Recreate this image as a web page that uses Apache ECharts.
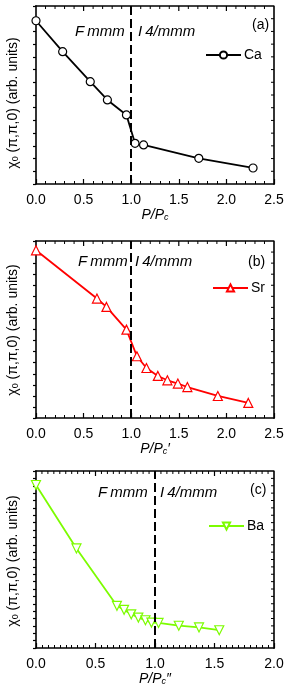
<!DOCTYPE html>
<html><head><meta charset="utf-8">
<script src="https://cdn.jsdelivr.net/npm/echarts@6/dist/echarts.min.js"></script>
<style>html,body{margin:0;padding:0;background:#fff}#c{width:291px;height:688px;background:#fff}</style>
</head><body><div id="c"></div>
<script>
// ---- data ----
const caP   = [0.0, 0.28, 0.57, 0.75, 0.95, 1.04, 1.13, 1.71, 2.28];
const caChi = [12.84, 10.41, 8.05, 6.61, 5.43, 3.20, 3.07, 2.02, 1.26];
const srP   = [0.0, 0.64, 0.74, 0.95, 1.06, 1.16, 1.28, 1.38, 1.49, 1.59, 1.91, 2.23];
const srChi = [15.16, 10.80, 10.04, 7.99, 5.58, 4.52, 3.80, 3.41, 3.11, 2.80, 1.99, 1.36];
const baP   = [0.0, 0.34, 0.68, 0.74, 0.80, 0.86, 0.92, 0.97, 1.03, 1.20, 1.37, 1.54];
const baChi = [22.1, 13.5, 5.72, 5.18, 4.57, 4.13, 3.76, 3.45, 3.40, 3.02, 2.79, 2.41];
const phaseBoundary = 1.0;
const xMaxA = 2.5, xMaxB = 2.5, xMaxC = 2.0;
const yMaxA = 14, yMaxB = 16, yMaxC = 24;
const seriesNames = ['Ca', 'Sr', 'Ba'];
const panelTags = ['(a)', '(b)', '(c)'];
const xNames = ['', '′', '″'];

const FONT = '"Liberation Sans", Arial, sans-serif';
const chart = echarts.init(document.getElementById('c'));

const grids = [
  {left: 36, top: 6, width: 238, height: 178},
  {left: 36, top: 241, width: 238, height: 177},
  {left: 36, top: 471, width: 238, height: 177}
];
const xMax = [xMaxA, xMaxB, xMaxC];
const yMax = [yMaxA, yMaxB, yMaxC];
const minorSplit = [5, 5, 10];
const colors = ['#000000', '#ff0000', '#7cfc00'];
const symbols = ['circle', 'triangle', 'triangle'];
const rot = [0, 0, 180];
const sizes = [8, 9, 9];
const datasets = [[caP, caChi], [srP, srChi], [baP, baChi]];

const xAxis = [], yAxis = [], series = [], legend = [];
const mkLine = () => ({show: true, onZero: false, lineStyle: {color: '#000', width: 1.6}});
for (let i = 0; i < 3; i++) {
  xAxis.push({
    gridIndex: i, type: 'value', position: 'bottom', min: 0, max: xMax[i], interval: 0.5,
    axisLine: mkLine(), splitLine: {show: false},
    axisTick: {inside: true, length: 5, lineStyle: {color: '#000', width: 1.2}},
    minorTick: {show: true, splitNumber: minorSplit[i], length: 3, lineStyle: {color: '#000', width: 1}},
    axisLabel: {color: '#000', fontFamily: FONT, fontSize: 14, margin: 9, formatter: v => v.toFixed(1)},
    name: '{i|P/P}{s|c}{i|' + xNames[i] + '}', nameLocation: 'middle', nameGap: 22,
    nameTextStyle: {rich: {
      i: {fontFamily: FONT, fontSize: 14, fontStyle: 'italic', color: '#000'},
      s: {fontFamily: FONT, fontSize: 9, fontStyle: 'italic', color: '#000', padding: [6, 0, 0, 0]}
    }}
  });
  yAxis.push({
    gridIndex: i, type: 'value', position: 'left', min: 0, max: yMax[i], interval: 1,
    axisLine: mkLine(), splitLine: {show: false},
    axisTick: {inside: false, length: 3, lineStyle: {color: '#000', width: 1.2}},
    axisLabel: {show: false}
  });
  const [px, py] = datasets[i];
  series.push({
    name: seriesNames[i], type: 'line', xAxisIndex: i, yAxisIndex: i,
    data: px.map((x, k) => [x, py[k]]),
    symbol: symbols[i], symbolSize: sizes[i], symbolRotate: rot[i], showAllSymbol: true,
    lineStyle: {color: colors[i], width: 1.8},
    itemStyle: {color: '#fff', borderColor: colors[i], borderWidth: 1.2},
    clip: false, z: 3,
    markLine: {
      silent: true, symbol: 'none', label: {show: false}, animation: false,
      lineStyle: {color: '#000', width: 2, type: [9, 4]},
      data: [{xAxis: phaseBoundary}]
    }
  });
  // top and right frame edges, drawn through the panel's own scales
  series.push({
    name: 'frame' + i, type: 'line', xAxisIndex: i, yAxisIndex: i,
    data: [[0, yMax[i]], [xMax[i], yMax[i]], [xMax[i], 0]],
    symbol: 'none', silent: true, clip: false, z: 4,
    lineStyle: {color: '#000', width: 1.6, cap: 'square'}, tooltip: {show: false}
  });
  // inward ticks on the top and right edges
  const step = 0.5 / minorSplit[i];
  const tickData = [];
  const nx = Math.round(xMax[i] / step);
  for (let k = 1; k < nx; k++) tickData.push([k * step, yMax[i], (k % minorSplit[i] === 0) ? 5 : 3, 0]);
  for (let k = 1; k < yMax[i]; k++) tickData.push([xMax[i], k, 3, 1]);
  series.push({
    name: 'ticks' + i, type: 'custom', xAxisIndex: i, yAxisIndex: i,
    data: tickData, silent: true, clip: false, z: 4,
    renderItem: (params, api) => {
      const p = api.coord([api.value(0), api.value(1)]);
      const len = api.value(2);
      const side = api.value(3);
      const pts = side === 0 ? [[p[0], p[1]], [p[0], p[1] + len]] : [[p[0], p[1]], [p[0] - len, p[1]]];
      return {type: 'polyline', shape: {points: pts}, style: {stroke: '#000', lineWidth: (side === 0 && len === 5) ? 1.2 : 1, fill: null}};
    }
  });
}
const legendPos = [{left: 205, top: 48}, {left: 212, top: 281}, {left: 208, top: 519}];
for (let i = 0; i < 3; i++) {
  legend.push({
    data: [seriesNames[i]], left: legendPos[i].left, top: legendPos[i].top,
    itemWidth: 35, itemHeight: 9, itemGap: 5, padding: 0,
    textStyle: {fontFamily: FONT, fontSize: 14, color: '#000', padding: [0, 0, 0, -2]}
  });
}

const ylabel = (x, y) => ({
  type: 'text', x, y, rotation: Math.PI / 2,
  style: {
    text: '{n|χ}{s|0}{n| (π,π,0) (arb. units)}',
    align: 'center', verticalAlign: 'middle',
    rich: {
      n: {fontFamily: FONT, fontSize: 14, fill: '#000'},
      s: {fontFamily: FONT, fontSize: 9, fill: '#000', padding: [6, 0, 0, 0]}
    }
  }
});
const phaseTxt = (x, y, t) => ({
  type: 'text', x, y,
  style: {
    text: t, fontFamily: FONT, fontSize: 15, fontStyle: 'italic', fill: '#000',
    align: 'left', verticalAlign: 'middle'
  }
});
const tag = (x, y, t) => ({type: 'text', x, y, style: {text: t, fontFamily: FONT, fontSize: 14, fill: '#000', verticalAlign: 'middle'}});
const graphic = [
  ylabel(13, 103), ylabel(13, 330), ylabel(13, 561),
  phaseTxt(75, 32, 'F\u2009mmm'), phaseTxt(138, 32, 'I\u20094/mmm'),
  phaseTxt(78, 262, 'F\u2009mmm'), phaseTxt(135, 262, 'I\u20094/mmm'),
  phaseTxt(98, 493, 'F\u2009mmm'), phaseTxt(160, 493, 'I\u20094/mmm'),
  tag(252, 25, panelTags[0]), tag(248, 262, panelTags[1]), tag(250, 490, panelTags[2])
];

chart.setOption({
  animation: false,
  grid: grids, xAxis, yAxis, series, legend, graphic
});
</script>
</body></html>
